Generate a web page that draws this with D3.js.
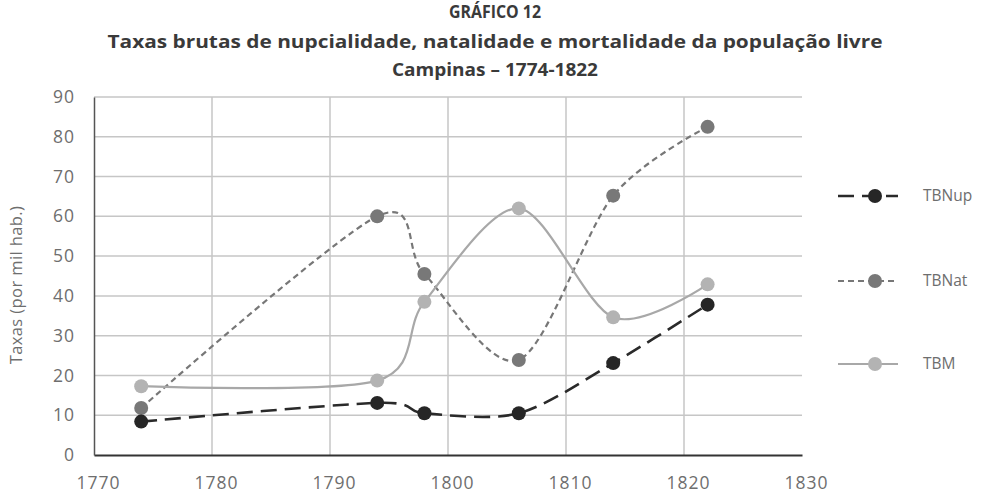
<!DOCTYPE html>
<html>
<head>
<meta charset="utf-8">
<script src="https://cdn.jsdelivr.net/npm/d3@7"></script>
<style>
  body { margin: 0; background: #fff; }
  svg { display: block; font-family: "Open Sans", sans-serif; }
</style>
</head>
<body>
<svg id="chart"></svg>
<script>
// data
const years = [1774, 1794, 1798, 1806, 1814, 1822];
const tbnup = [8.4, 13.1, 10.5, 10.5, 23.1, 37.8];
const tbnat = [11.8, 60.0, 45.5, 23.9, 65.2, 82.5];
const tbm = [17.3, 18.7, 38.5, 62.0, 34.6, 42.9];
const xTicks = [1770, 1780, 1790, 1800, 1810, 1820, 1830];
const yTicks = [0, 10, 20, 30, 40, 50, 60, 70, 80, 90];

const seriesNames = ['TBNup', 'TBNat', 'TBM'];
const seriesValues = [tbnup, tbnat, tbm];
const styles = [
    { stroke: '#2a2a2a', fill: '#262626', width: 2.6, dash: '16,8', r: 7 },
    { stroke: '#777777', fill: '#787878', width: 2.2, dash: '6,4', r: 7 },
    { stroke: '#a8a8a8', fill: '#b3b3b3', width: 2.2, dash: null, r: 7 }
];

const W = 990, H = 498;
const margin = { top: 97, left: 94, right: 188, bottom: 43 };
const width = W - margin.left - margin.right;
const height = H - margin.top - margin.bottom;

const svg = d3.select('#chart').attr('width', W).attr('height', H);

// titles
const titles = [
    { text: 'GRÁFICO 12', y: 18, len: 92 },
    { text: 'Taxas brutas de nupcialidade, natalidade e mortalidade da população livre', y: 48, len: 775 },
    { text: 'Campinas – 1774-1822', y: 76, len: 206 }
];
titles.forEach(t => {
    svg.append('text')
        .attr('x', 495)
        .attr('y', t.y)
        .attr('text-anchor', 'middle')
        .attr('font-size', '17px')
        .attr('font-weight', 'bold')
        .attr('fill', '#3a3a3a')
        .attr('textLength', t.len)
        .attr('lengthAdjust', 'spacingAndGlyphs')
        .text(t.text);
});

const chart = svg.append('g')
    .attr('transform', `translate(${margin.left},${margin.top})`);

const xScale = d3.scaleLinear().domain([1770, 1830]).range([0, width]);
const yScale = d3.scaleLinear().domain([0, 90]).range([height, 0]);

// grid
chart.append('g')
    .selectAll('line')
    .data(yTicks.filter(d => d > 0))
    .join('line')
    .attr('x1', 0).attr('x2', width)
    .attr('y1', d => yScale(d)).attr('y2', d => yScale(d))
    .attr('stroke', '#c6c6c6').attr('stroke-width', 1.5);

chart.append('g')
    .selectAll('line')
    .data(xTicks.filter(d => d > 1770 && d < 1830))
    .join('line')
    .attr('x1', d => xScale(d)).attr('x2', d => xScale(d))
    .attr('y1', 0).attr('y2', height)
    .attr('stroke', '#c6c6c6').attr('stroke-width', 1.5);

// axes
const xAxis = d3.axisBottom(xScale).tickValues(xTicks).tickSize(0).tickPadding(22).tickFormat(d3.format('d'));
const yAxis = d3.axisLeft(yScale).tickValues(yTicks).tickSize(0).tickPadding(19);

const xAxisG = chart.append('g')
    .attr('transform', `translate(0,${height})`)
    .call(xAxis);
xAxisG.select('.domain').attr('stroke', '#333').attr('stroke-width', 2);

const yAxisG = chart.append('g').call(yAxis);
yAxisG.select('.domain').attr('stroke', '#555').attr('stroke-width', 1.5);

chart.selectAll('.tick text')
    .attr('font-size', '17.5px')
    .attr('letter-spacing', '1px')
    .attr('fill', '#6e6e6e')
    .attr('font-family', '"Open Sans", sans-serif');
xAxisG.selectAll('.tick text').attr('dx', 4);

svg.append('text')
    .attr('transform', `translate(22,${margin.top + 188}) rotate(-90)`)
    .attr('text-anchor', 'middle')
    .attr('font-size', '16.5px')
    .attr('letter-spacing', '0.4px')
    .attr('fill', '#6e6e6e')
    .text('Taxas (por mil hab.)');

// lines
const line = d3.line()
    .x((d, i) => xScale(years[i]))
    .y(d => yScale(d))
    .curve(d3.curveCardinal.tension(0.1));

const order = [1, 2, 0];
order.forEach(k => {
    const s = styles[k];
    chart.append('path')
        .datum(seriesValues[k])
        .attr('d', line)
        .attr('fill', 'none')
        .attr('stroke', s.stroke)
        .attr('stroke-width', s.width)
        .attr('stroke-dasharray', s.dash);
    chart.append('g')
        .selectAll('circle')
        .data(seriesValues[k])
        .join('circle')
        .attr('cx', (d, i) => xScale(years[i]))
        .attr('cy', d => yScale(d))
        .attr('r', s.r)
        .attr('fill', s.fill);
});

// legend
const legendY = [196, 281, 364];
seriesNames.forEach((name, k) => {
    const s = styles[k];
    const g = svg.append('g').attr('transform', `translate(838,${legendY[k]})`);
    g.append('line')
        .attr('x1', 0).attr('x2', 60)
        .attr('stroke', s.stroke)
        .attr('stroke-width', s.width)
        .attr('stroke-dasharray', s.dash);
    g.append('circle').attr('cx', 37).attr('r', s.r).attr('fill', s.fill);
    g.append('text')
        .attr('x', 85)
        .attr('dy', '0.35em')
        .attr('font-size', '15.5px')
        .attr('fill', '#6e6e6e')
        .text(name);
});
</script>
</body>
</html>
